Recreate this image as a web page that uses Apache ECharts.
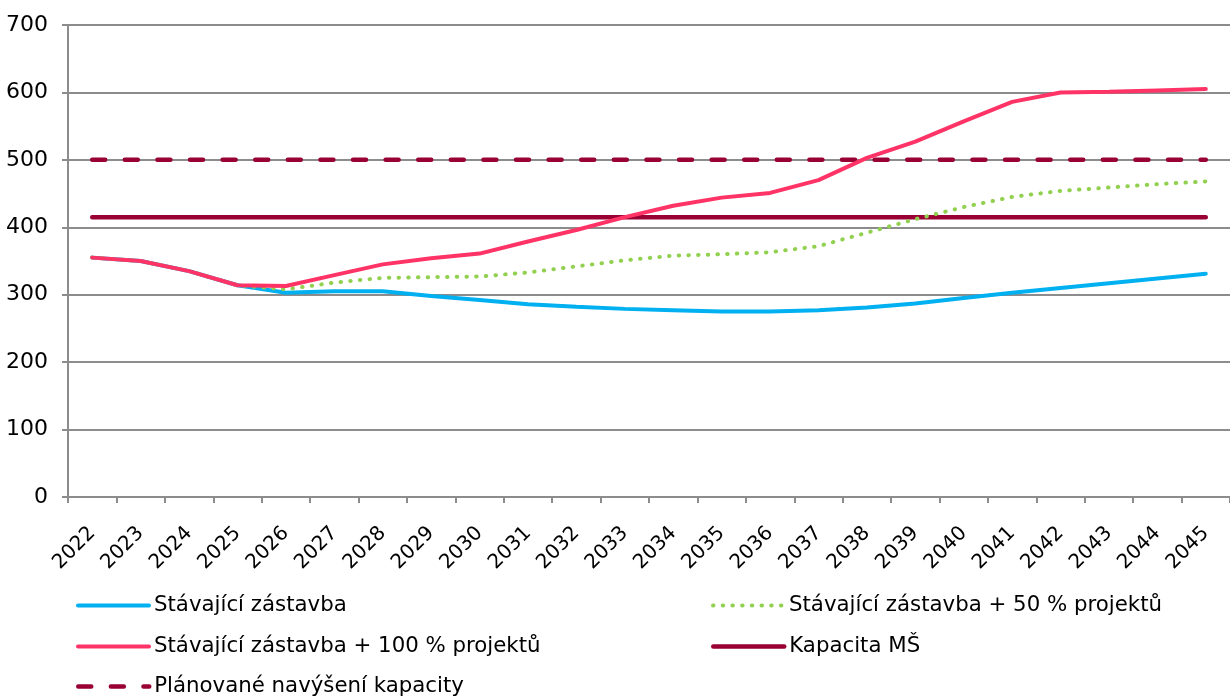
<!DOCTYPE html>
<html>
<head>
<meta charset="utf-8">
<script src="https://cdn.jsdelivr.net/npm/echarts@6/dist/echarts.min.js"></script>
<style>
  html, body { margin: 0; padding: 0; background: #fff; }
  #chart { width: 1230px; height: 698px; }
</style>
</head>
<body>
<div id="chart"></div>
<script>
// Data
const years = ['2022', '2023', '2024', '2025', '2026', '2027', '2028', '2029', '2030', '2031', '2032', '2033',
  '2034', '2035', '2036', '2037', '2038', '2039', '2040', '2041', '2042', '2043', '2044', '2045'];
const stavajici = [355, 350, 335, 314, 303, 305, 305, 298, 292, 286, 282, 279,
  277, 275, 275, 277, 281, 287, 295, 303, 310, 317, 324, 331];
const projekty50 = [355, 350, 335, 314, 308, 318, 325, 326, 327, 333, 342, 351,
  358, 360, 363, 372, 392, 412, 430, 445, 454, 459, 464, 468];
const projekty100 = [355, 350, 335, 314, 313, 329, 345, 354, 361, 379, 396, 415,
  432, 444, 451, 470, 503, 527, 557, 586, 600, 601, 603, 605];
const kapacita = [415, 415, 415, 415, 415, 415, 415, 415, 415, 415, 415, 415,
  415, 415, 415, 415, 415, 415, 415, 415, 415, 415, 415, 415];
const navyseni = [500, 500, 500, 500, 500, 500, 500, 500, 500, 500, 500, 500,
  500, 500, 500, 500, 500, 500, 500, 500, 500, 500, 500, 500];
const yTicks = [0, 100, 200, 300, 400, 500, 600, 700];

const FONT = 'DejaVu Sans';
const names = [
  'Stávající zástavba',
  'Stávající zástavba + 50 % projektů',
  'Stávající zástavba + 100 % projektů',
  'Kapacita MŠ',
  'Plánované navýšení kapacity'
];
const colors = ['#00B0F0', '#92D050', '#FF3366', '#990033', '#990033'];
const dashes = ['solid', [0.5, 9.2], 'solid', 'solid', [13, 19.6]];
const widths = [4, 4, 4, 4.5, 4.5];

// one legend per entry so the two-column layout matches
const legendPos = [[76, 595], [711, 595], [76, 636], [711, 636], [76, 676]];
const legends = names.map((n, i) => ({
  data: [n],
  left: legendPos[i][0],
  top: legendPos[i][1],
  padding: 0,
  itemWidth: 71,
  itemHeight: 14,
  selectedMode: false,
  itemStyle: { opacity: 0 },
  lineStyle: { color: colors[i], width: widths[i], type: dashes[i], cap: 'round' },
  textStyle: { fontFamily: FONT, fontSize: 21.3, color: '#000', padding: [0, 0, 0, 0] }
}));

function lineSeries(i, data, z) {
  return {
    name: names[i],
    type: 'line',
    data: data,
    symbol: 'none',
    smooth: false,
    z: z,
    lineStyle: { color: colors[i], width: widths[i], type: dashes[i], cap: 'round' },
    itemStyle: { color: colors[i] }
  };
}

const chart = echarts.init(document.getElementById('chart'), null, { renderer: 'canvas' });
chart.setOption({
  animation: false,
  backgroundColor: '#fff',
  legend: legends,
  grid: { left: 68, top: 25, width: 1170, height: 472, containLabel: false },
  xAxis: {
    type: 'category',
    data: years,
    boundaryGap: true,
    axisLine: { lineStyle: { color: '#8c8c8c', width: 2 } },
    axisTick: { show: true, interval: 0, length: 6, lineStyle: { color: '#8c8c8c', width: 2 } },
    axisLabel: { interval: 0, rotate: 45, margin: 33, fontFamily: FONT, fontSize: 20, color: '#000' },
    splitLine: { show: false }
  },
  yAxis: {
    type: 'value',
    min: yTicks[0],
    max: yTicks[yTicks.length - 1],
    interval: 100,
    axisLine: { show: true, lineStyle: { color: '#8c8c8c', width: 2 } },
    axisTick: { show: true, length: 6, lineStyle: { color: '#8c8c8c', width: 2 } },
    axisLabel: { margin: 20, fontFamily: FONT, fontSize: 22, color: '#000' },
    splitLine: { lineStyle: { color: '#8c8c8c', width: 2 } }
  },
  series: [
    lineSeries(3, kapacita, 2),
    lineSeries(4, navyseni, 2),
    lineSeries(0, stavajici, 3),
    lineSeries(1, projekty50, 4),
    lineSeries(2, projekty100, 5)
  ]
});
</script>
</body>
</html>
